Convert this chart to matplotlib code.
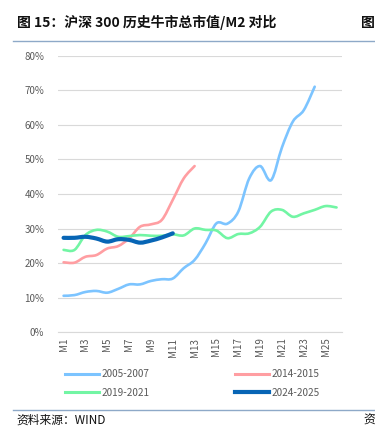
import numpy as np
import matplotlib
matplotlib.use("Agg")
import matplotlib.pyplot as plt
from matplotlib.path import Path
from matplotlib.patches import PathPatch
from matplotlib.lines import Line2D

plt.rcParams['font.family'] = ['Noto Sans CJK SC', 'DejaVu Sans']

# month labels M1..M26
months = ["M%d" % i for i in range(1, 27)]

# total market cap / M2 (percent)
s2005 = [10.5, 10.7, 11.6, 11.9, 11.4, 12.5, 13.8, 13.8, 14.8, 15.3, 15.5, 18.5,
         20.9, 25.7, 31.5, 31.4, 34.9, 44.5, 48.1, 44.0, 53.5, 61.0, 64.3, 71.1]
s2014 = [20.2, 20.1, 21.8, 22.3, 24.2, 24.9, 27.1, 30.5, 31.2, 32.5, 38.3, 44.5, 48.1]
s2019 = [23.8, 23.8, 28.1, 29.6, 29.1, 27.6, 27.8, 28.1, 27.9, 27.9, 28.3, 28.0,
         30.0, 29.6, 29.4, 27.2, 28.4, 28.6, 30.5, 34.9, 35.4, 33.4, 34.4, 35.4, 36.5, 36.1]
s2024 = [27.3, 27.3, 27.6, 27.1, 26.2, 26.9, 26.7, 25.9, 26.5, 27.4, 28.6]

series = [
    ("2005-2007", s2005, "#7cc4ff", 1.9),
    ("2014-2015", s2014, "#ff9ea2", 1.9),
    ("2019-2021", s2019, "#72f5a4", 1.9),
    ("2024-2025", s2024, "#0765b5", 3.0),
]


def smooth_path(x, y):
    # cubic bezier through the points (like a smoothed office chart line)
    x = np.asarray(x, float)
    y = np.asarray(y, float)
    verts = [(x[0], y[0])]
    codes = [Path.MOVETO]
    n = len(x)
    for i in range(n - 1):
        p0 = (x[max(i - 1, 0)], y[max(i - 1, 0)])
        p1 = (x[i], y[i])
        p2 = (x[i + 1], y[i + 1])
        p3 = (x[min(i + 2, n - 1)], y[min(i + 2, n - 1)])
        c1 = (p1[0] + (p2[0] - p0[0]) / 6, p1[1] + (p2[1] - p0[1]) / 6)
        c2 = (p2[0] - (p3[0] - p1[0]) / 6, p2[1] - (p3[1] - p1[1]) / 6)
        verts += [c1, c2, p2]
        codes += [Path.CURVE4] * 3
    return Path(verts, codes)


fig = plt.figure(figsize=(3.75, 4.34), dpi=100)
ax = fig.add_axes([0.155, 0.235, 0.757, 0.636])

for name, vals, col, lw in series:
    xs = np.arange(len(vals))
    ys = np.array(vals) / 100.0
    ax.add_patch(PathPatch(smooth_path(xs, ys), facecolor="none", edgecolor=col,
                           lw=lw, capstyle="round", joinstyle="round", zorder=3))

ax.set_xlim(-0.5, len(months) - 0.5)
ax.set_ylim(0, 0.8)
ax.set_yticks(np.arange(0, 0.81, 0.1))
ax.set_yticklabels(["%d%%" % (v * 10) for v in range(9)])
ax.set_xticks(range(0, len(months), 2))
ax.set_xticklabels(months[::2], rotation=90)
ax.tick_params(axis="both", length=0, labelsize=7, colors="#595959")
ax.tick_params(axis="y", pad=10)
ax.tick_params(axis="x", pad=4)
ax.grid(axis="y", color="#d9d9d9", lw=0.8)
ax.set_axisbelow(True)
for sp in ["top", "right", "left"]:
    ax.spines[sp].set_visible(False)
ax.spines["bottom"].set_color("#d9d9d9")
ax.spines["bottom"].set_linewidth(0.8)

handles = {name: Line2D([], [], color=col, lw=lw if lw > 2 else 2.2)
           for name, vals, col, lw in series}
order = ["2005-2007", "2019-2021", "2014-2015", "2024-2025"]
fig.legend([handles[k] for k in order], order, ncol=2, frameon=False,
           loc="upper left", bbox_to_anchor=(0.15, 0.17), fontsize=7.2,
           labelcolor="#595959", handlelength=3.4, handletextpad=0.2,
           columnspacing=8.6, labelspacing=0.85)

# title and frame lines
fig.text(0.045, 0.948, "图 15：沪深 300 历史牛市总市值/M2 对比", fontsize=10,
         fontweight="bold", color="#111111", va="center", ha="left")
fig.text(0.962, 0.948, "图", fontsize=10, fontweight="bold", color="#111111",
         va="center", ha="left")
fig.add_artist(Line2D([0.035, 1.0], [0.905, 0.905], color="#8ea9c8", lw=1.0))
fig.add_artist(Line2D([0.035, 1.0], [0.055, 0.055], color="#8ea9c8", lw=1.0))
fig.text(0.045, 0.032, "资料来源：WIND", fontsize=8.5, color="#111111",
         va="center", ha="left")
fig.text(0.97, 0.032, "资", fontsize=8.5, color="#111111", va="center", ha="left")

fig.savefig("out.png", dpi=100)
